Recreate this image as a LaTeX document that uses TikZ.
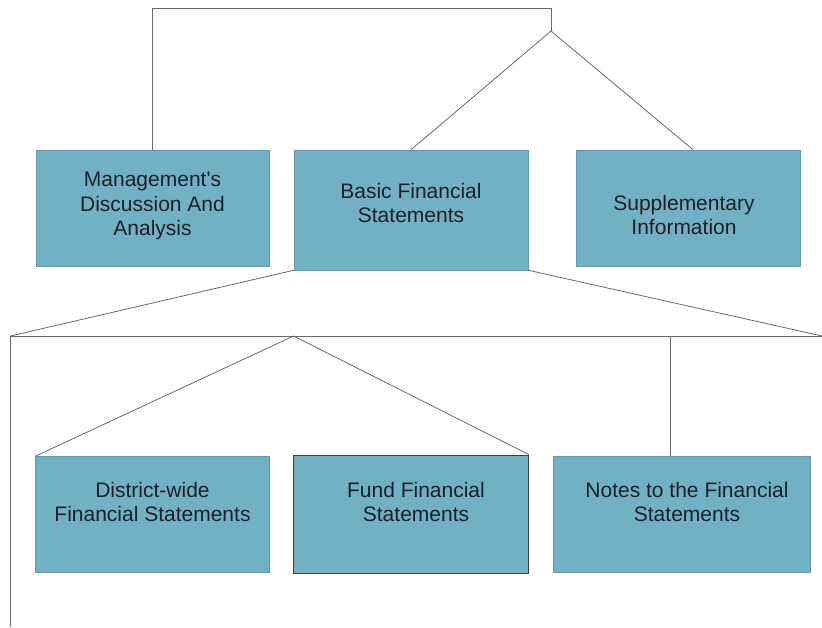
\documentclass[tikz,border=0pt]{standalone}
\usepackage{fontspec}
\setmainfont{Liberation Sans}
\definecolor{boxfill}{RGB}{114,177,197}
\definecolor{linegray}{RGB}{105,105,105}
\definecolor{textdark}{RGB}{28,32,38}
\begin{document}
\begin{tikzpicture}[x=1pt,y=-1pt,
		box/.style={fill=boxfill,draw=boxfill!88!black,line width=.5pt,inner sep=0pt},
		boxtext/.style={align=center,text=textdark,font=\fontsize{21}{24.5}\selectfont},
		conn/.style={draw=linegray,line width=.8pt}]
		\useasboundingbox (0,0) rectangle (822,627);
		% upper row
		\node[box,minimum width=233,minimum height=116] (mda) at (152.5,208) {};
		\node[box,minimum width=234,minimum height=120] (bfs) at (411,210) {};
		\node[box,minimum width=224,minimum height=116] (si) at (688.5,208) {};
		\node[boxtext] (mdatext) at (152.5,206) {Management\textquotesingle s\\Discussion And\\Analysis};
		\node[boxtext] (bfstext) at (411,203) {Basic Financial\\Statements};
		\node[boxtext] (sitext) at (684,215) {Supplementary\\Information};
		% lower row
		\node[box,minimum width=234,minimum height=116] (dw) at (152.5,514.5) {};
		\node[box,draw=black!75,line width=.8pt,minimum width=235,minimum height=118] (ffs) at (411,514) {};
		\node[box,minimum width=257,minimum height=116] (nfs) at (681.5,514) {};
		\node[boxtext] (dwtext) at (152.5,502) {District-wide\\Financial Statements};
		\node[boxtext] (ffstext) at (416,502) {Fund Financial\\Statements};
		\node[boxtext] (nfstext) at (687,502) {Notes to the Financial\\Statements};
		% junctions
		\coordinate (topR) at (551,8);
		\coordinate (junA) at (551,31);
		\coordinate (barL) at (10.5,336);
		\coordinate (barR) at (822,336);
		\coordinate (barM) at (293.6,336);
		\coordinate (barN) at (670,336);
		\coordinate (lowL) at (10.5,627);
		% connectors
		\draw[conn] (mda.north) |- (topR) -- (junA);
		\draw[conn] (junA) -- (bfs.north);
		\draw[conn] (junA) -- ([xshift=4.5]si.north);
		\draw[conn] (bfs.south west) -- (barL);
		\draw[conn] (bfs.south east) -- (barR);
		\draw[conn] (barL) -- (barR);
		\draw[conn] (barL) -- (lowL);
		\draw[conn] (barM) -- (dw.north west);
		\draw[conn] (barM) -- (ffs.north east);
		\draw[conn] (barN) -- (barN |- nfs.north);
	\end{tikzpicture}
\end{document}
